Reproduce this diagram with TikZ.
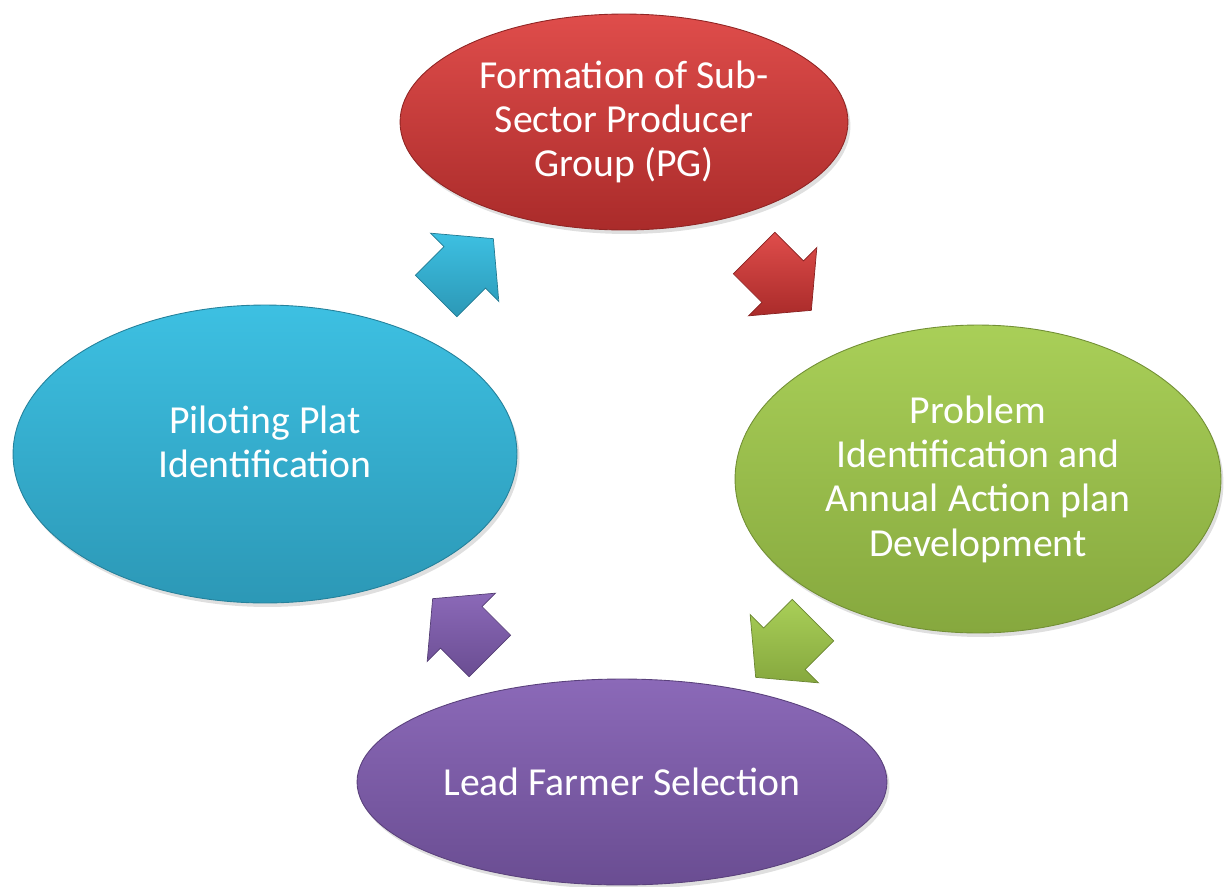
\documentclass[tikz,border=0pt]{standalone}
\usepackage{fontspec}
\setmainfont{Carlito}
\usetikzlibrary{shapes.geometric,shapes.arrows,shadows}

\definecolor{pgtop}{HTML}{DF4D4B}
\definecolor{pgbot}{HTML}{AA2B2A}
\definecolor{plantop}{HTML}{A9CF58}
\definecolor{planbot}{HTML}{86A83E}
\definecolor{leadtop}{HTML}{8B69B8}
\definecolor{leadbot}{HTML}{6A4D92}
\definecolor{plottop}{HTML}{3DC0E2}
\definecolor{plotbot}{HTML}{2C98B6}

\begin{document}
\begin{tikzpicture}[x=0.02cm,y=-0.02cm,
    stage/.style n args={2}{ellipse, inner sep=0pt, top color=#1, bottom color=#2,
      draw=#2!85!black, line width=0.5pt, text=white, align=center,
      font=\fontsize{22.6}{25.2}\selectfont,
      drop shadow={opacity=0.25, shadow xshift=0.05cm, shadow yshift=-0.08cm}},
    turn/.style n args={2}{single arrow, single arrow head extend=0.38cm,
      single arrow tip angle=100, inner xsep=0pt, inner ysep=0.58cm,
      minimum height=1.62cm, top color=#1, bottom color=#2, draw=#2!80!black,
      line width=0.4pt}]
    \useasboundingbox (0,0) rectangle (1224,886);

    % Ellipsen
    \node[stage={pgtop}{pgbot}, minimum width=8.96cm, minimum height=4.32cm]
      (pg) at (624,122) {Formation of Sub-\\Sector Producer\\Group (PG)};
    \node[stage={plantop}{planbot}, minimum width=9.72cm, minimum height=6.16cm]
      (plan) at (978,479) {Problem\\Identification and\\Annual Action plan\\Development};
    \node[stage={leadtop}{leadbot}, minimum width=10.6cm, minimum height=4.12cm]
      (lead) at (622,782) {Lead Farmer Selection};
    \node[stage={plottop}{plotbot}, minimum width=10.08cm, minimum height=5.96cm]
      (plot) at (265,454) {Piloting Plat\\Identification\rule[-14pt]{0pt}{1pt}};

    % Pfeile
    \foreach \name/\pos/\ang/\ctop/\cbot in {
        toPG/{(456,276)}/45/plottop/plotbot,
        toPlan/{(774,273)}/-45/pgtop/pgbot,
        toLead/{(793,640)}/-135/plantop/planbot,
        toPlot/{(470,636)}/135/leadtop/leadbot} {
      \node[turn={\ctop}{\cbot}, rotate=\ang] (\name) at \pos {};
    }
  \end{tikzpicture}
\end{document}
